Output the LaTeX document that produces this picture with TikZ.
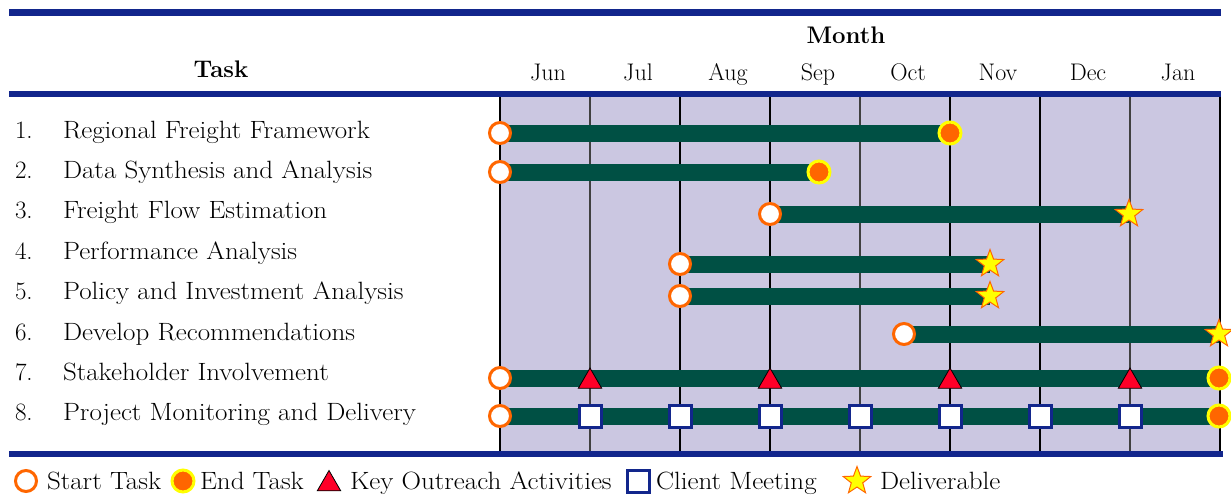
\documentclass[tikz,border=0pt]{standalone}
\usepackage{graphicx}
\usetikzlibrary{shapes.geometric}

\definecolor{rule}{RGB}{18,38,140}
\definecolor{lav}{RGB}{203,199,225}
\definecolor{barg}{RGB}{0,80,68}
\definecolor{ora}{RGB}{255,102,0}
\definecolor{yel}{RGB}{255,255,0}
\definecolor{red}{RGB}{255,0,40}

% slightly widened body text
\newcommand{\widetxt}[1]{\scalebox{1.08}[1]{#1}}

\tikzset{
  txt/.style={inner sep=0pt, outer sep=0pt, font=\fontsize{24}{28}\selectfont},
  body/.style={inner sep=0pt, outer sep=0pt, font=\fontsize{25}{30}\selectfont},
  head/.style={txt, font=\fontsize{24}{28}\selectfont\bfseries},
  hrule/.style={rule, line width=6.5pt},
  gridthin/.style={black!75, line width=1.1pt},
  gridthick/.style={black, line width=1.9pt},
  taskbar/.style={barg, line width=17pt},
  startmk/.style={circle, draw=ora, fill=white, line width=3pt, minimum size=21pt, inner sep=0pt},
  endmk/.style={circle, draw=yel, fill=ora, line width=3pt, minimum size=22pt, inner sep=0pt},
  starmk/.style={star, star points=5, star point ratio=2.4, draw=ora, fill=yel, line width=1pt, minimum size=29pt, inner sep=0pt},
  trimk/.style={regular polygon, regular polygon sides=3, draw=black, fill=red, line width=0.8pt, minimum size=27pt, inner sep=0pt},
  sqmk/.style={rectangle, draw=rule, fill=white, line width=3pt, minimum size=22pt, inner sep=0pt},
}

\begin{document}
\begin{tikzpicture}[x=1pt, y=-1pt]
\useasboundingbox (0,0) rectangle (1231,498);

% shaded timeline area
\fill[lav] (500,97) rectangle (1220,451);

% month grid lines
\foreach \xx/\st in {500/gridthick, 590/gridthin, 680/gridthick, 770/gridthick, 860/gridthin, 950/gridthick, 1040/gridthick, 1130/gridthin, 1220/gridthick}
  \draw[\st] (\xx,97) -- (\xx,454);

% horizontal rules
\draw[hrule] (9,12.5) -- (1221,12.5);
\draw[hrule] (9,94) -- (1221,94);
\draw[hrule] (9,454) -- (1223,454);

% headings
\node[head, anchor=base] (hTask) at (221,77) {Task};
\node[head, anchor=base] (hMonth) at (846,43) {Month};
\foreach \m [count=\i from 0] in {Jun,Jul,Aug,Sep,Oct,Nov,Dec,Jan}
  \node[txt, anchor=base] (mon\i) at ({548+90*\i},80) {\m};

% task labels
\foreach \t [count=\i] in {Regional Freight Framework, Data Synthesis and Analysis, Freight Flow Estimation, Performance Analysis, Policy and Investment Analysis, Develop Recommendations, Stakeholder Involvement, Project Monitoring and Delivery}{
  \node[body, anchor=base west] (num\i) at (15,{138+40.4*(\i-1)}) {\i.};
  \node[body, anchor=base west] (lab\i) at (63,{138+40.4*(\i-1)}) {\widetxt{\t}};
}

% bar end points
\coordinate (b1s) at (500,133);  \coordinate (b1e) at (950,133);
\coordinate (b2s) at (500,172);  \coordinate (b2e) at (819,172);
\coordinate (b3s) at (770,214);  \coordinate (b3e) at (1129,214);
\coordinate (b4s) at (680,264);  \coordinate (b4e) at (990,264);
\coordinate (b5s) at (680,296);  \coordinate (b5e) at (990,296);
\coordinate (b6s) at (904,334);  \coordinate (b6e) at (1219,334);
\coordinate (b7s) at (500,378);  \coordinate (b7e) at (1219,378);
\coordinate (b8s) at (500,416);  \coordinate (b8e) at (1219,416);

\foreach \i in {1,...,8}
  \draw[taskbar] (b\i s) -- (b\i e);

% start markers
\foreach \i in {1,...,8}
  \node[startmk] (st\i) at (b\i s) {};

% end markers
\node[endmk] (en1) at (b1e) {};
\node[endmk] (en2) at (b2e) {};
\node[starmk] (dl3) at (b3e) {};
\node[starmk] (dl4) at (b4e) {};
\node[starmk] (dl5) at (b5e) {};
\node[starmk] (dl6) at (b6e) {};
\node[endmk] (en7) at (b7e) {};
\node[endmk] (en8) at (b8e) {};

% outreach activities
\foreach \xx [count=\k] in {590,770,950,1130}
  \node[trimk] (ko\k) at (\xx,381.5) {};

% client meetings
\foreach \xx [count=\k] in {590,680,770,860,950,1040,1130}
  \node[sqmk] (cm\k) at (\xx,416) {};

% legend
\node[startmk] (lgS) at (26,481) {};
\node[body, anchor=base west] (lgSt) at (47,489) {\widetxt{Start Task}};
\node[endmk] (lgE) at (183,481) {};
\node[body, anchor=base west] (lgEt) at (200,489) {\widetxt{End Task}};
\node[trimk] (lgK) at (329,484) {};
\node[body, anchor=base west] (lgKt) at (350,489) {\widetxt{Key Outreach Activities}};
\node[sqmk] (lgC) at (638,481) {};
\node[body, anchor=base west] (lgCt) at (656,489) {\widetxt{Client Meeting}};
\node[starmk] (lgD) at (857,481) {};
\node[body, anchor=base west] (lgDt) at (880,489) {\widetxt{Deliverable}};
\end{tikzpicture}
\end{document}
